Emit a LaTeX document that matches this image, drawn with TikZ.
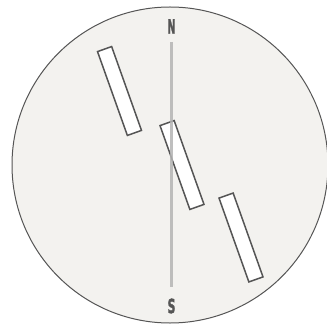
\documentclass[tikz,border=0pt]{standalone}
\usepackage{fontspec}
\setmainfont{Liberation Sans}
\newfontfamily\lblfont[FakeBold=2]{DejaVu Sans}
\definecolor{dial}{HTML}{F3F2EF}
\definecolor{rim}{HTML}{555555}
\definecolor{needle}{HTML}{B4B4B4}
\newcommand{\narrowlbl}[1]{\resizebox{8pt}{14.5pt}{\lblfont\bfseries #1}}
\begin{document}
\begin{tikzpicture}[x=1pt,y=-1pt,
  bar/.style={draw=rim,fill=white,line width=1.5pt,minimum width=89pt,minimum height=15pt,inner sep=0pt,rotate=-70.4},
  lbl/.style={text=rim,inner sep=0pt}]
\useasboundingbox (0,0) rectangle (326,328);
\node[circle,draw=rim,fill=dial,line width=1pt,minimum size=316pt,inner sep=0pt] (dialc) at (170,165) {};
\node[bar] (b1) at (119.5,91) {};
\node[bar] (b2) at (182,165) {};
\node[bar] (b3) at (241,237.5) {};
\coordinate (ntop) at (171.5,42);
\coordinate (sbot) at (171.5,287);
\draw[needle,line width=2.4pt,opacity=0.85] (ntop) -- (sbot);
\node[lbl] (N) at (171.5,26.5) {\narrowlbl{N}};
\node[lbl] (S) at (171.5,306) {\narrowlbl{S}};
\end{tikzpicture}
\end{document}
